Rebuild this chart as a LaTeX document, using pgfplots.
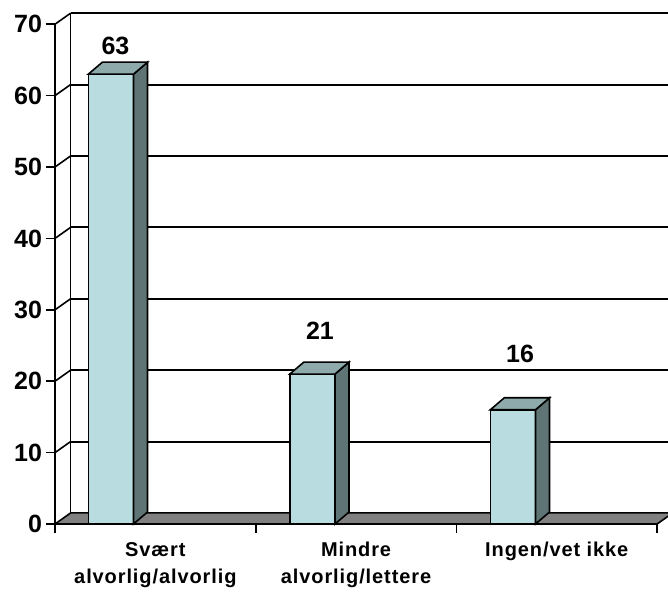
\documentclass[border=0pt]{standalone}
\usepackage{fontspec}
\setmainfont{Liberation Sans}
\newfontfamily\catfont{Liberation Sans}[LetterSpace=4.5]
\usepackage{pgfplots}
\pgfplotsset{compat=1.18}

\definecolor{barfront}{HTML}{B9DCE0}
\definecolor{bartop}{HTML}{8FAAAA}
\definecolor{barside}{HTML}{5F7575}
\definecolor{floorgray}{HTML}{808080}

\begin{document}
\begin{tikzpicture}
  % 1 px of the reference = 0.5pt
  \begin{axis}[
    x=100.35pt, y=3.57pt,
    xmin=0, xmax=3, ymin=0, ymax=70,
    axis lines*=left,
    axis line style={-, line width=0.8pt},
    clip=false,
    tick align=outside,
    tick style={line width=0.8pt, black},
    ytick={0,10,...,70},
    major tick length=4.5pt,
    yticklabel style={font=\fontsize{12.5}{14}\selectfont\bfseries, xshift=1.5pt},
    /pgf/number format/assume math mode=true,
    xtick={0,1,2,3},
    xticklabels={,,,},
    extra x ticks={0.5,1.5,2.5},
    extra x tick labels={{Svært\\alvorlig/alvorlig},{Mindre\\alvorlig/lettere},{Ingen/vet ikke}},
    extra x tick style={major tick length=0pt,
      xticklabel style={align=center, yshift=-5.5pt,
        font=\catfont\fontsize{10}{13.5}\selectfont\bfseries}},
  ]
    % back wall grid lines and side wall diagonals
    \pgfplotsinvokeforeach{10,20,...,70}{
      \draw[line width=1pt] (axis cs:0.078,#1+1.55) -- (axis cs:3.1,#1+1.55);
      \draw[line width=0.8pt] (axis cs:0,#1) -- (axis cs:0.078,#1+1.55);
    }
    \draw[line width=0.8pt] (axis cs:0.078,1.55) -- (axis cs:0.078,71.55);

    % floor
    \addplot[fill=floorgray, draw=black, line width=0.8pt]
      coordinates {(0,0) (3,0) (3.078,1.55) (0.078,1.55)} -- cycle;

    % bars: front faces
    \addplot[ybar, bar width=0.225, bar shift=0, fill=barfront, draw=black, line width=0.8pt]
      coordinates {(0.2785,63) (1.2825,21) (2.2815,16)};

    % bars: side faces
    \addplot[fill=barside, draw=black, line width=0.8pt]
      coordinates {(0.391,0) (0.461,1.68) (0.461,64.68) (0.391,63)} -- cycle;
    \addplot[fill=barside, draw=black, line width=0.8pt]
      coordinates {(1.395,0) (1.465,1.68) (1.465,22.68) (1.395,21)} -- cycle;
    \addplot[fill=barside, draw=black, line width=0.8pt]
      coordinates {(2.394,0) (2.464,1.68) (2.464,17.68) (2.394,16)} -- cycle;

    % bars: top faces
    \addplot[fill=bartop, draw=black, line width=0.8pt]
      coordinates {(0.166,63) (0.391,63) (0.461,64.68) (0.236,64.68)} -- cycle;
    \addplot[fill=bartop, draw=black, line width=0.8pt]
      coordinates {(1.170,21) (1.395,21) (1.465,22.68) (1.240,22.68)} -- cycle;
    \addplot[fill=bartop, draw=black, line width=0.8pt]
      coordinates {(2.169,16) (2.394,16) (2.464,17.68) (2.239,17.68)} -- cycle;

    % value labels
    \node[font=\fontsize{12.5}{14}\selectfont\bfseries] at (axis cs:0.301,66.9) {63};
    \node[font=\fontsize{12.5}{14}\selectfont\bfseries] at (axis cs:1.320,27.0) {21};
    \node[font=\fontsize{12.5}{14}\selectfont\bfseries] at (axis cs:2.317,23.8) {16};
  \end{axis}
  \pgfresetboundingbox
  \path (-27.5pt,-35pt) rectangle (306.5pt,262pt);
\end{tikzpicture}
\end{document}
